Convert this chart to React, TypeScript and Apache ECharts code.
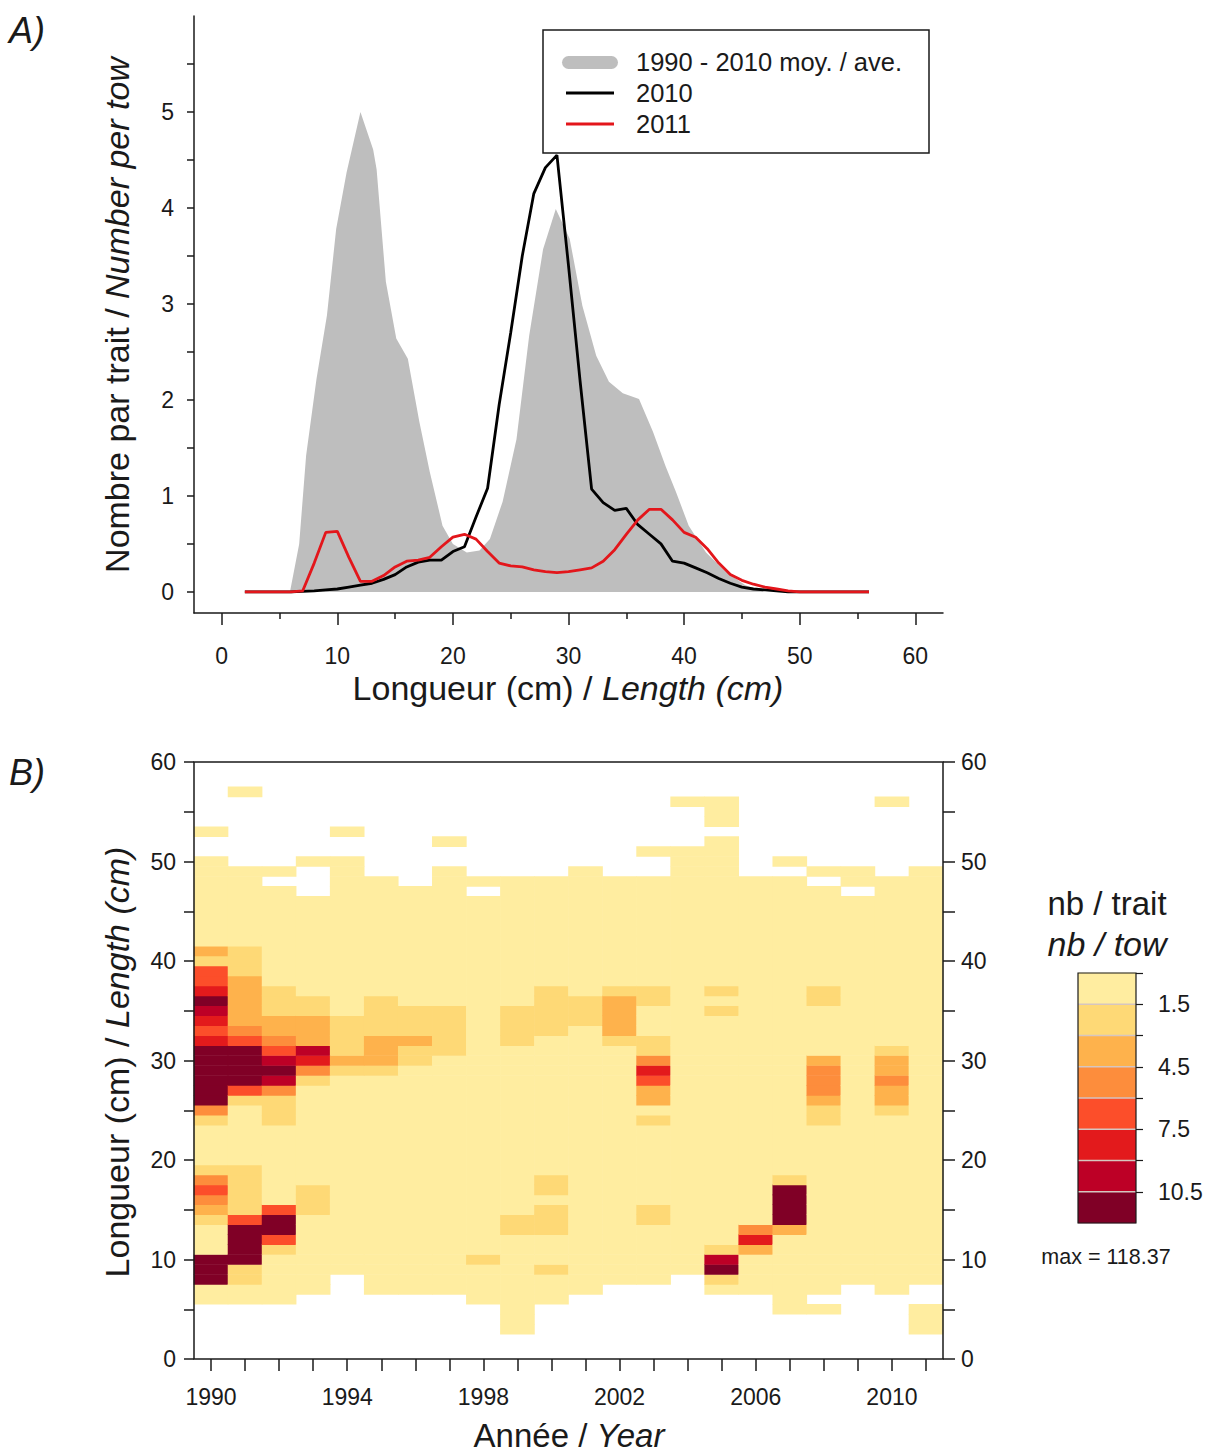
import React, { useEffect, useRef } from "react";
import * as echarts from "echarts";

const FONT = '"Liberation Sans", Arial, Helvetica, sans-serif';

// ---------- Panel A : length frequencies ----------
const lengthCm = [
  2, 3, 4, 5, 6, 7, 8, 9, 10, 11, 12, 13, 14, 15, 16, 17, 18, 19, 20, 21, 22, 23, 24, 25, 26, 27, 28, 29,
  30, 31, 32, 33, 34, 35, 36, 37, 38, 39, 40, 41, 42, 43, 44, 45, 46, 47, 48, 49, 50, 51, 52, 53, 54, 55, 56,
];
const number2010 = [
  0, 0, 0, 0, 0, 0.005, 0.01, 0.02, 0.03, 0.05, 0.07, 0.09, 0.13, 0.18, 0.26, 0.31, 0.33, 0.33, 0.42, 0.47,
  0.78, 1.08, 1.95, 2.7, 3.5, 4.15, 4.42, 4.55, 3.4, 2.2, 1.07, 0.93, 0.85, 0.87, 0.7, 0.6, 0.5, 0.32, 0.3,
  0.25, 0.2, 0.14, 0.09, 0.05, 0.03, 0.02, 0.01, 0, 0, 0, 0, 0, 0, 0, 0,
];
const number2011 = [
  0, 0, 0, 0, 0, 0.01, 0.3, 0.62, 0.63, 0.36, 0.11, 0.11, 0.17, 0.26, 0.32, 0.33, 0.36, 0.47, 0.57, 0.6,
  0.55, 0.42, 0.3, 0.27, 0.26, 0.23, 0.21, 0.2, 0.21, 0.23, 0.25, 0.32, 0.44, 0.6, 0.75, 0.86, 0.86, 0.75,
  0.62, 0.57, 0.45, 0.3, 0.18, 0.12, 0.08, 0.05, 0.03, 0.01, 0, 0, 0, 0, 0, 0, 0,
];
// 1990-2010 average (outline vertices)
const avgLength = [
  5.9, 6.7, 7.3, 8.2, 9.1, 9.9, 10.8, 12.0, 13.1, 13.4, 14.2, 15.1, 16.1, 17.1, 18.0, 19.1, 20.0, 21.2, 22.3,
  23.2, 24.3, 25.5, 26.6, 27.8, 28.9, 30.1, 31.2, 32.4, 33.5, 34.7, 36.1, 37.3, 38.4, 39.3, 40.4, 41.9, 43.6,
  45.3, 47.0,
];
const avgNumber = [
  0, 0.5, 1.42, 2.22, 2.88, 3.78, 4.37, 5.0, 4.61, 4.4, 3.23, 2.64, 2.43, 1.77, 1.25, 0.69, 0.5, 0.41, 0.43,
  0.55, 0.94, 1.59, 2.67, 3.57, 3.99, 3.68, 2.98, 2.46, 2.19, 2.07, 2.01, 1.67, 1.31, 1.04, 0.69, 0.41, 0.21,
  0.07, 0,
];
const xTicksA = [0, 10, 20, 30, 40, 50, 60];
const xMinorTicksA = [5, 15, 25, 35, 45, 55];
const yTicksA = [0, 0.5, 1, 1.5, 2, 2.5, 3, 3.5, 4, 4.5, 5, 5.5];
const yLabelsA = [0, 1, 2, 3, 4, 5];

// ---------- Panel B : length x year heat map ----------
const years = [
  1990, 1991, 1992, 1993, 1994, 1995, 1996, 1997, 1998, 1999, 2000, 2001, 2002, 2003, 2004, 2005, 2006, 2007,
  2008, 2009, 2010, 2011,
];
const yearLabels = [1990, 1994, 1998, 2002, 2006, 2010];
// smallest / largest length caught each year (lowest class unless listed below)
const lenMin = [6, 6, 6, 7, 9, 7, 7, 7, 6, 3, 6, 7, 8, 8, 9, 7, 7, 5, 7, 8, 7, 8];
const lenMax = [50, 49, 49, 50, 50, 48, 47, 49, 48, 48, 48, 49, 48, 51, 51, 52, 48, 50, 49, 49, 48, 49];
const baseValue = 0.5;
// lengths inside the range with no catch
const emptyCells: [number, number][] = [
  [1992, 48], [1993, 49], [1993, 48], [1993, 47], [1998, 47], [2003, 50], [2003, 49], [2007, 49],
  [2008, 48], [2009, 47],
];
// isolated catches outside the range
const isolatedCells: [number, number, number][] = [
  [1990, 53, 0.3], [1991, 57, 0.3], [1994, 53, 0.3], [1997, 52, 0.3], [2004, 56, 0.3], [2005, 54, 0.3],
  [2005, 55, 0.3], [2005, 56, 0.3], [2010, 56, 0.3], [2008, 5, 0.3], [2011, 5, 0.3], [2011, 4, 0.3],
  [2011, 3, 0.3],
];
// cells above the lowest class [year, length, nb / tow]
const highCells: [number, number, number][] = [
  [1990, 41, 3.8], [1990, 40, 2.3], [1990, 39, 6.9], [1990, 38, 6.6], [1990, 37, 8.3], [1990, 36, 12.4],
  [1990, 35, 9.8], [1990, 34, 8.1], [1990, 33, 7.0], [1990, 32, 8.4], [1990, 31, 24.5], [1990, 30, 48.2],
  [1990, 29, 86.7], [1990, 28, 118.37], [1990, 27, 63.5], [1990, 26, 19.8], [1990, 25, 5.1], [1990, 24, 2.1],
  [1990, 19, 2.4], [1990, 18, 5.3], [1990, 17, 6.7], [1990, 16, 5.0], [1990, 15, 3.9], [1990, 14, 2.0],
  [1990, 10, 13.6], [1990, 9, 21.2], [1990, 8, 11.8],
  [1991, 41, 2.2], [1991, 40, 2.4], [1991, 39, 2.1], [1991, 38, 3.6], [1991, 37, 4.1], [1991, 36, 3.8],
  [1991, 35, 3.9], [1991, 34, 3.4], [1991, 33, 5.4], [1991, 32, 6.9], [1991, 31, 15.3], [1991, 30, 22.6],
  [1991, 29, 31.4], [1991, 28, 17.2], [1991, 27, 6.5], [1991, 26, 1.9], [1991, 19, 2.0], [1991, 18, 2.3],
  [1991, 17, 2.5], [1991, 16, 2.6], [1991, 15, 2.2], [1991, 14, 7.2], [1991, 13, 14.7], [1991, 12, 25.1],
  [1991, 11, 19.3], [1991, 10, 12.8], [1991, 9, 2.3], [1991, 8, 1.8],
  [1992, 37, 1.9], [1992, 36, 2.1], [1992, 35, 2.2], [1992, 34, 3.6], [1992, 33, 4.0], [1992, 32, 5.2],
  [1992, 31, 6.8], [1992, 30, 9.9], [1992, 29, 13.5], [1992, 28, 10.2], [1992, 27, 5.4], [1992, 26, 2.6],
  [1992, 25, 2.1], [1992, 24, 1.8], [1992, 15, 7.1], [1992, 14, 16.4], [1992, 13, 12.9], [1992, 12, 6.6],
  [1992, 11, 2.1],
  [1993, 36, 1.9], [1993, 35, 2.2], [1993, 34, 3.5], [1993, 33, 3.8], [1993, 32, 3.4], [1993, 31, 9.7],
  [1993, 30, 8.6], [1993, 29, 5.1], [1993, 28, 2.0], [1993, 17, 2.3], [1993, 16, 2.6], [1993, 15, 2.1],
  [1994, 34, 2.0], [1994, 33, 2.3], [1994, 32, 2.4], [1994, 31, 2.6], [1994, 30, 3.5], [1994, 29, 2.0],
  [1995, 36, 1.8], [1995, 35, 2.1], [1995, 34, 2.3], [1995, 33, 2.5], [1995, 32, 3.3], [1995, 31, 3.9],
  [1995, 30, 3.4], [1995, 29, 1.9],
  [1996, 35, 1.9], [1996, 34, 2.2], [1996, 33, 2.4], [1996, 32, 3.2], [1996, 31, 2.6], [1996, 30, 2.0],
  [1997, 35, 1.7], [1997, 34, 2.0], [1997, 33, 2.2], [1997, 32, 2.3], [1997, 31, 1.9],
  [1998, 10, 1.7],
  [1999, 35, 1.8], [1999, 34, 2.0], [1999, 33, 2.1], [1999, 32, 1.8], [1999, 14, 1.9], [1999, 13, 1.7],
  [2000, 37, 1.8], [2000, 36, 2.1], [2000, 35, 2.3], [2000, 34, 2.2], [2000, 33, 1.9], [2000, 18, 1.8],
  [2000, 17, 1.9], [2000, 15, 1.7], [2000, 14, 1.9], [2000, 13, 1.8], [2000, 9, 1.7],
  [2001, 36, 1.9], [2001, 35, 2.1], [2001, 34, 1.8],
  [2002, 37, 2.0], [2002, 36, 3.3], [2002, 35, 3.7], [2002, 34, 3.6], [2002, 33, 3.2], [2002, 32, 2.1],
  [2003, 37, 1.9], [2003, 36, 1.8], [2003, 32, 1.9], [2003, 31, 2.4], [2003, 30, 5.0], [2003, 29, 8.4],
  [2003, 28, 6.9], [2003, 27, 4.0], [2003, 26, 3.4], [2003, 24, 1.7], [2003, 15, 1.8], [2003, 14, 1.9],
  [2005, 37, 1.7], [2005, 35, 1.8], [2005, 11, 2.2], [2005, 10, 9.6], [2005, 9, 14.8], [2005, 8, 2.0],
  [2006, 13, 5.2], [2006, 12, 8.0], [2006, 11, 3.6],
  [2007, 18, 2.0], [2007, 17, 16.2], [2007, 16, 23.8], [2007, 15, 21.4], [2007, 14, 12.6], [2007, 13, 3.7],
  [2008, 37, 1.9], [2008, 36, 2.0], [2008, 30, 4.2], [2008, 29, 5.1], [2008, 28, 5.6], [2008, 27, 5.2],
  [2008, 26, 3.8], [2008, 25, 2.2], [2008, 24, 1.8],
  [2010, 31, 2.2], [2010, 30, 3.6], [2010, 29, 3.9], [2010, 28, 5.0], [2010, 27, 4.1], [2010, 26, 3.5],
  [2010, 25, 2.0],
];
const lengthTicksB = [0, 5, 10, 15, 20, 25, 30, 35, 40, 45, 50, 55, 60];
const lengthLabelsB = [0, 10, 20, 30, 40, 50, 60];

// colour classes (nb / tow)
const classBreaks = [0, 1.5, 3, 4.5, 6, 7.5, 9, 10.5];
const classColors = ["#FFEDA0", "#FED976", "#FEB24C", "#FD8D3C", "#FC4E2A", "#E31A1C", "#BD0026", "#800026"];
const legendTicks = [1.5, 4.5, 7.5, 10.5];
const legendTop = 12;
const maxValue = 118.37;

function classOf(v: number): number {
  let k = 0;
  for (let i = 0; i < classBreaks.length; i++) if (v >= classBreaks[i]) k = i;
  return k;
}

function buildHeatData(): number[][] {
  const empty = new Set(emptyCells.map(([y, l]) => `${y}_${l}`));
  const high = new Map(highCells.map(([y, l, v]) => [`${y}_${l}`, v]));
  const out: number[][] = [];
  years.forEach((yr, i) => {
    for (let l = lenMin[i]; l <= lenMax[i]; l++) {
      const key = `${yr}_${l}`;
      if (empty.has(key)) continue;
      out.push([yr, l, high.has(key) ? (high.get(key) as number) : baseValue]);
    }
  });
  isolatedCells.forEach((c) => out.push([c[0], c[1], c[2]]));
  return out;
}

const INK = "#1a1a1a";

function textEl(x: number, y: number, text: string, size: number, extra: any = {}) {
  return {
    type: "text",
    x,
    y,
    rotation: extra.rotation || 0,
    z: 100,
    style: {
      text,
      x: 0,
      y: 0,
      fill: INK,
      fontSize: size,
      fontFamily: FONT,
      fontStyle: extra.fontStyle || "normal",
      align: extra.align || "center",
      textAlign: extra.align || "center",
      verticalAlign: "middle",
      textVerticalAlign: "middle",
      rich: {
        i: { fontSize: size, fontFamily: FONT, fontStyle: "italic", fill: INK },
      },
    },
  };
}

export default function App() {
  const ref = useRef<HTMLDivElement>(null);

  useEffect(() => {
    document.body.style.margin = "0";
    if (!ref.current) return;
    const chart = echarts.init(ref.current, null, { renderer: "svg" });

    const heatData = buildHeatData();
    const legendBins = classBreaks.map((b, i) => [b, i + 1 < classBreaks.length ? classBreaks[i + 1] : legendTop, i]);

    const axisLine = { show: true, onZero: false, lineStyle: { color: INK, width: 1.5 } };
    const tickStyle = { color: INK, width: 1.5 };
    const labelStyle = { color: INK, fontSize: 23, fontFamily: FONT };

    const option: any = {
      animation: false,
      backgroundColor: "#ffffff",
      textStyle: { fontFamily: FONT },
      grid: [
        { left: 194, top: 16, width: 749, height: 597, containLabel: false },
        {
          left: 194, top: 762, width: 749, height: 597, show: true, z: 10,
          borderColor: INK, borderWidth: 1.5, backgroundColor: "transparent",
        },
        {
          left: 1078, top: 973, width: 58, height: 250, show: true, z: 10,
          borderColor: INK, borderWidth: 1.2, backgroundColor: "transparent",
        },
      ],
      xAxis: [
        {
          gridIndex: 0, type: "value", min: -2.4, max: 62.4, position: "bottom", z: 5,
          axisLine,
          axisTick: { show: true, length: 12, customValues: xTicksA, lineStyle: tickStyle },
          axisLabel: { ...labelStyle, margin: 31, customValues: xTicksA },
          splitLine: { show: false },
        },
        {
          gridIndex: 0, type: "value", min: -2.4, max: 62.4, position: "bottom", z: 5,
          axisLine: { show: false, onZero: false },
          axisTick: { show: true, length: 6, customValues: xMinorTicksA, lineStyle: tickStyle },
          axisLabel: { show: false },
          splitLine: { show: false },
        },
        {
          gridIndex: 1, type: "value", min: 1989.5, max: 2011.5, position: "bottom", z: 5,
          axisLine: { show: false, onZero: false },
          axisTick: { show: true, length: 12, customValues: years, lineStyle: tickStyle },
          axisLabel: { ...labelStyle, margin: 26, customValues: yearLabels, formatter: (v: number) => String(v) },
          splitLine: { show: false },
        },
        { gridIndex: 2, type: "value", min: 0, max: 1, show: false },
      ],
      yAxis: [
        {
          gridIndex: 0, type: "value", min: -0.22, max: 6, position: "left", z: 5,
          axisLine,
          axisTick: { show: true, length: 7, customValues: yTicksA, lineStyle: tickStyle },
          axisLabel: { ...labelStyle, margin: 20, customValues: yLabelsA },
          splitLine: { show: false },
        },
        {
          gridIndex: 1, type: "value", min: 0, max: 60, position: "left", z: 5,
          axisLine: { show: false, onZero: false },
          axisTick: { show: true, length: 10, customValues: lengthTicksB, lineStyle: tickStyle },
          axisLabel: { ...labelStyle, margin: 18, customValues: lengthLabelsB },
          splitLine: { show: false },
        },
        {
          gridIndex: 1, type: "value", min: 0, max: 60, position: "right", z: 5,
          axisLine: { show: false, onZero: false },
          axisTick: { show: true, length: 12, customValues: lengthTicksB, lineStyle: tickStyle },
          axisLabel: { ...labelStyle, margin: 18, customValues: lengthLabelsB },
          splitLine: { show: false },
        },
        {
          gridIndex: 2, type: "value", min: 0, max: legendTop, inverse: true, position: "right", z: 5,
          axisLine: { show: false, onZero: false },
          axisTick: { show: true, length: 7, customValues: classBreaks, lineStyle: { color: INK, width: 1.2 } },
          axisLabel: { ...labelStyle, margin: 22, customValues: legendTicks, formatter: (v: number) => v.toFixed(1) },
          splitLine: { show: false },
        },
      ],
      series: [
        {
          name: "1990 - 2010 moy. / ave.",
          type: "line", xAxisIndex: 0, yAxisIndex: 0,
          data: avgLength.map((x, i) => [x, avgNumber[i]]),
          symbol: "none", z: 1,
          lineStyle: { width: 0, color: "#BEBEBE" },
          areaStyle: { color: "#BEBEBE", opacity: 1 },
        },
        {
          name: "2010",
          type: "line", xAxisIndex: 0, yAxisIndex: 0,
          data: lengthCm.map((x, i) => [x, number2010[i]]),
          symbol: "none", z: 3,
          lineStyle: { width: 2.8, color: "#000000" },
        },
        {
          name: "2011",
          type: "line", xAxisIndex: 0, yAxisIndex: 0,
          data: lengthCm.map((x, i) => [x, number2011[i]]),
          symbol: "none", z: 4,
          lineStyle: { width: 2.8, color: "#E3161B" },
        },
        {
          name: "nb / trait",
          type: "custom", xAxisIndex: 2, yAxisIndex: 1,
          data: heatData,
          renderItem: (_p: any, api: any) => {
            const yr = api.value(0) as number;
            const len = api.value(1) as number;
            const v = api.value(2) as number;
            const a = api.coord([yr - 0.5, len + 0.5]);
            const b = api.coord([yr + 0.5, len - 0.5]);
            return {
              type: "rect",
              shape: { x: a[0] - 0.3, y: a[1] - 0.3, width: b[0] - a[0] + 0.6, height: b[1] - a[1] + 0.6 },
              style: { fill: classColors[classOf(v)] },
            };
          },
        },
        {
          name: "legend",
          type: "custom", xAxisIndex: 3, yAxisIndex: 3,
          data: legendBins,
          renderItem: (_p: any, api: any) => {
            const lo = api.value(0) as number;
            const hi = api.value(1) as number;
            const k = api.value(2) as number;
            const a = api.coord([0, lo]);
            const b = api.coord([1, hi]);
            const children: any[] = [
              {
                type: "rect",
                shape: { x: a[0], y: a[1] - 0.3, width: b[0] - a[0], height: b[1] - a[1] + 0.6 },
                style: { fill: classColors[k] },
              },
            ];
            if (k > 0) {
              children.push({
                type: "line",
                shape: { x1: a[0], y1: a[1], x2: b[0], y2: a[1] },
                style: { stroke: "#d6c6c0", lineWidth: 1.6 },
              });
            }
            return { type: "group", children };
          },
        },
      ],
      graphic: [
        textEl(9, 30, "A)", 36, { align: "left", fontStyle: "italic" }),
        textEl(9, 772, "B)", 36, { align: "left", fontStyle: "italic" }),
        // legend
        {
          type: "rect", z: 100,
          shape: { x: 543, y: 30, width: 386, height: 123 },
          style: { fill: "#ffffff", stroke: INK, lineWidth: 1.5 },
        },
        {
          type: "rect", z: 101,
          shape: { x: 562, y: 56, width: 56, height: 13, r: 6.5 },
          style: { fill: "#BEBEBE" },
        },
        {
          type: "line", z: 101,
          shape: { x1: 566, y1: 93, x2: 614, y2: 93 },
          style: { stroke: "#000000", lineWidth: 3 },
        },
        {
          type: "line", z: 101,
          shape: { x1: 566, y1: 124, x2: 614, y2: 124 },
          style: { stroke: "#E3161B", lineWidth: 3 },
        },
        textEl(636, 62, "1990 - 2010 moy. / ave.", 25.5, { align: "left" }),
        textEl(636, 93, "2010", 25.5, { align: "left" }),
        textEl(636, 124, "2011", 25.5, { align: "left" }),
        // axis titles
        textEl(117, 315, "Nombre par trait / {i|Number per tow}", 34, { rotation: Math.PI / 2 }),
        textEl(568, 688, "Longueur (cm) / {i|Length (cm)}", 34),
        textEl(117, 1062, "Longueur (cm) / {i|Length (cm)}", 34, { rotation: Math.PI / 2 }),
        textEl(569, 1435, "Année / {i|Year}", 33),
        // colour scale
        textEl(1107, 903, "nb / trait", 33),
        textEl(1107, 944, "{i|nb / tow}", 34),
        textEl(1106, 1257, `max = ${maxValue}`, 21.5),
      ],
    };

    chart.setOption(option);
    return () => chart.dispose();
  }, []);

  return <div ref={ref} style={{ width: 1218, height: 1456 }} />;
}
